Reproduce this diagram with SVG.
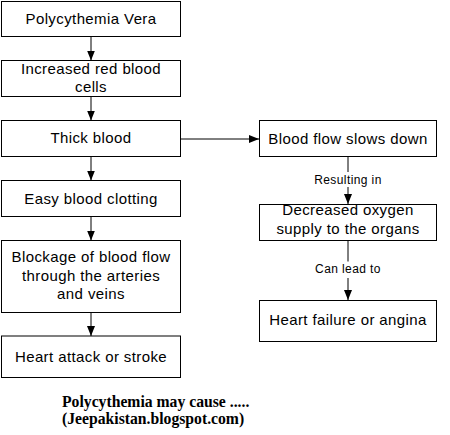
<svg xmlns="http://www.w3.org/2000/svg" width="450" height="435" viewBox="0 0 450 435">
<style>
.box{fill:#fff;stroke:#000;stroke-width:1}
.t{font-family:"Liberation Sans",Arial,sans-serif;font-size:15px;letter-spacing:0.4px;fill:#000;text-anchor:middle}
.lbl{font-family:"Liberation Sans",Arial,sans-serif;font-size:12px;letter-spacing:0.4px;fill:#000;text-anchor:middle}
.cap{font-family:"Liberation Serif","Times New Roman",serif;font-size:15.7px;font-weight:bold;fill:#000}
.c{stroke:#000;stroke-width:1;fill:none}
</style>
<defs>
<marker id="ah" viewBox="0 0 10 8" refX="10" refY="4" markerWidth="10" markerHeight="8" markerUnits="userSpaceOnUse" orient="auto">
<path d="M0,0 L10,4 L0,8 z" fill="#000"/>
</marker>
</defs>
<rect width="450" height="435" fill="#fff"/>
<g id="connectors">
<line class="c" x1="91" y1="37" x2="91" y2="60.5" marker-end="url(#ah)"/>
<line class="c" x1="91" y1="97" x2="91" y2="120.5" marker-end="url(#ah)"/>
<line class="c" x1="91" y1="157" x2="91" y2="180.5" marker-end="url(#ah)"/>
<line class="c" x1="91" y1="217" x2="91" y2="240.5" marker-end="url(#ah)"/>
<line class="c" x1="91" y1="313" x2="91" y2="336" marker-end="url(#ah)"/>
<line class="c" x1="181" y1="139" x2="259" y2="139" marker-end="url(#ah)"/>
<line class="c" x1="348" y1="157" x2="348" y2="172"/>
<line class="c" x1="348" y1="187" x2="348" y2="204" marker-end="url(#ah)"/>
<text class="lbl" x="348" y="184">Resulting in</text>
<line class="c" x1="348" y1="240.5" x2="348" y2="261.5"/>
<line class="c" x1="348" y1="278" x2="348" y2="300" marker-end="url(#ah)"/>
<text class="lbl" x="348" y="273">Can lead to</text>
</g>
<g id="n1"><rect class="box" x="1.5" y="1.5" width="179" height="35"/><text class="t" x="91" y="24">Polycythemia Vera</text></g>
<g id="n2"><rect class="box" x="1.5" y="60.5" width="179" height="36"/><text class="t" x="91" y="74">Increased red blood</text><text class="t" x="91" y="92">cells</text></g>
<g id="n3"><rect class="box" x="1.5" y="120.5" width="179" height="36"/><text class="t" x="91" y="143">Thick blood</text></g>
<g id="n4"><rect class="box" x="1.5" y="180.5" width="179" height="36"/><text class="t" x="91" y="203.5">Easy blood clotting</text></g>
<g id="n5"><rect class="box" x="1.5" y="240.5" width="179" height="72"/><text class="t" x="91" y="262">Blockage of blood flow</text><text class="t" x="91" y="280.5">through the arteries</text><text class="t" x="91" y="299">and veins</text></g>
<g id="n6"><rect class="box" x="1.5" y="336" width="179" height="41.5"/><text class="t" x="91" y="362">Heart attack or stroke</text></g>
<g id="n7"><rect class="box" x="259.5" y="120.5" width="177" height="36"/><text class="t" x="348" y="143.5">Blood flow slows down</text></g>
<g id="n8"><rect class="box" x="259.5" y="204.5" width="177" height="36"/><text class="t" x="348" y="215">Decreased oxygen</text><text class="t" x="348" y="233.5">supply to the organs</text></g>
<g id="n9"><rect class="box" x="259.5" y="300.5" width="177" height="41"/><text class="t" x="348" y="325">Heart failure or angina</text></g>
<g id="caption">
<text class="cap" x="62" y="407">Polycythemia may cause .....</text>
<text class="cap" x="62" y="424">(Jeepakistan.blogspot.com)</text>
</g>
</svg>
